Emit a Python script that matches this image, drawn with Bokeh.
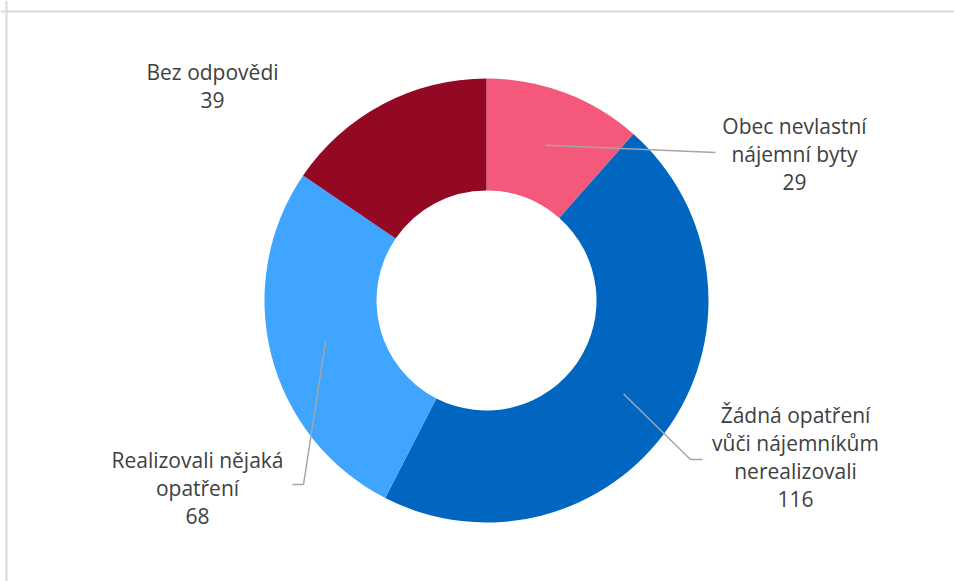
import math
from bokeh.plotting import figure
from bokeh.models import Range1d, Span, ColumnDataSource
from bokeh.core.properties import value
from bokeh.embed import file_html
from bokeh.resources import INLINE

# ---- data ----
categories = ["Obec nevlastní nájemní byty",
              "Žádná opatření vůči nájemníkům nerealizovali",
              "Realizovali nějaká opatření",
              "Bez odpovědi"]
counts = [29, 116, 68, 39]
label_lines = [["Obec nevlastní", "nájemní byty"],
               ["Žádná opatření", "vůči nájemníkům", "nerealizovali"],
               ["Realizovali nějaká", "opatření"],
               ["Bez odpovědi"]]
colors = ["#F4587A", "#0066C0", "#3FA5FF", "#930822"]

# ---- layout (pixels) ----
W, H = 954, 581
CX, CY = 486, 300          # donut centre in page pixels
R_OUT, R_IN = 222, 110
# label anchors: (centre x, first line centre y) in page pixels
label_pos = [(794, 125), (795, 414), (197, 459), (212, 71)]
LINE_H = 28.2
# leader line ends (page pixels); None = no leader
leader_ends = [[(715, 152)],
               [(690, 459), (702, 459)],
               [(303, 484), (292, 484)],
               None]

def px(x):
    return x - CX

def py(y):
    return CY - y

p = figure(width=W, height=H, output_backend="svg", toolbar_location=None,
           x_range=Range1d(-CX, W - CX), y_range=Range1d(-(H - CY), CY),
           x_axis_location=None, y_axis_location=None,
           min_border=0, min_border_left=0, min_border_right=0,
           min_border_top=0, min_border_bottom=0)
p.grid.visible = False
p.outline_line_color = None
p.background_fill_color = "white"
p.border_fill_color = "white"

# chart border (light grey, left and top visible)
p.add_layout(Span(location=px(6), dimension="height", line_color="#D9D9D9", line_width=2))
p.add_layout(Span(location=py(11), dimension="width", line_color="#D9D9D9", line_width=2))

total = sum(counts)
starts, ends, mids = [], [], []
cum = 0
for c in counts:
    a0 = math.pi / 2 - cum / total * 2 * math.pi
    cum += c
    a1 = math.pi / 2 - cum / total * 2 * math.pi
    starts.append(a0)
    ends.append(a1)
    mids.append((a0 + a1) / 2)

src = ColumnDataSource(dict(start=starts, end=ends, color=colors, cat=categories, n=counts))
p.annular_wedge(x=0, y=0, inner_radius=R_IN, outer_radius=R_OUT,
                start_angle="start", end_angle="end", direction="clock",
                fill_color="color", line_color=None, source=src)

# leader lines from the middle of the ring
r_mid = (R_IN + R_OUT) / 2
for i, ends_pts in enumerate(leader_ends):
    if not ends_pts:
        continue
    xs = [r_mid * math.cos(mids[i])] + [px(x) for x, _ in ends_pts]
    ys = [r_mid * math.sin(mids[i])] + [py(y) for _, y in ends_pts]
    p.line(xs, ys, line_color="#A6A6A6", line_width=1.5)

# labels
tx, ty, tt = [], [], []
for i, lines in enumerate(label_lines):
    lx, ly = label_pos[i]
    all_lines = lines + [str(counts[i])]
    for k, t in enumerate(all_lines):
        tx.append(px(lx))
        ty.append(py(ly + k * LINE_H))
        tt.append(t)
p.text(x=tx, y=ty, text=tt, text_align="center", text_baseline="middle",
       text_font=value("Open Sans"), text_font_size="21px", text_color="#404040")

open("out.html", "w").write(file_html(p, INLINE))
